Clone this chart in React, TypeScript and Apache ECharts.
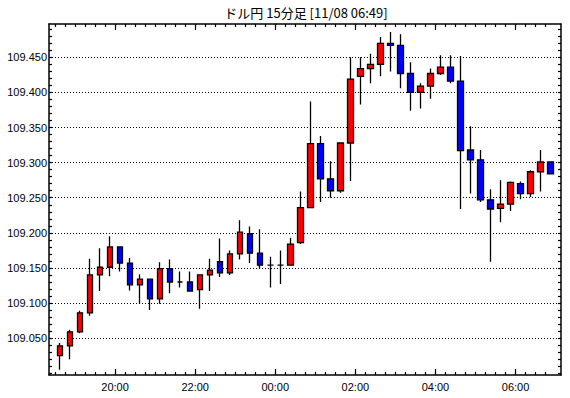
import React, { useEffect, useRef } from "react";
import * as echarts from "echarts";

// Candles: 15-minute bars starting 18:30, [open, close, low, high]
const opens = [109.025, 109.039, 109.059, 109.086, 109.140, 109.151, 109.180, 109.157, 109.126, 109.134,
  109.106, 109.149, 109.130, 109.130, 109.119, 109.140, 109.159, 109.143, 109.170, 109.199,
  109.171, 109.154, 109.154, 109.154, 109.186, 109.236, 109.327, 109.277, 109.260, 109.328,
  109.423, 109.434, 109.440, 109.470, 109.467, 109.427, 109.400, 109.409, 109.427, 109.436,
  109.416, 109.318, 109.304, 109.247, 109.235, 109.241, 109.270, 109.256, 109.287, 109.301];
const closes = [109.039, 109.059, 109.086, 109.140, 109.151, 109.180, 109.157, 109.126, 109.134, 109.106,
  109.149, 109.130, 109.130, 109.117, 109.140, 109.147, 109.143, 109.170, 109.201, 109.171,
  109.154, 109.154, 109.154, 109.184, 109.236, 109.327, 109.277, 109.260, 109.328, 109.419,
  109.434, 109.440, 109.470, 109.467, 109.427, 109.400, 109.409, 109.427, 109.436, 109.416,
  109.317, 109.304, 109.247, 109.234, 109.241, 109.272, 109.256, 109.287, 109.301, 109.284];
const lows = [109.005, 109.020, 109.057, 109.082, 109.117, 109.138, 109.145, 109.118, 109.099, 109.090,
  109.099, 109.114, 109.122, 109.117, 109.092, 109.117, 109.137, 109.140, 109.162, 109.157,
  109.149, 109.122, 109.127, 109.154, 109.184, 109.236, 109.244, 109.250, 109.257, 109.274,
  109.383, 109.413, 109.423, 109.430, 109.406, 109.374, 109.377, 109.391, 109.425, 109.413,
  109.234, 109.256, 109.244, 109.159, 109.215, 109.231, 109.248, 109.251, 109.259, 109.284];
const highs = [109.043, 109.062, 109.089, 109.163, 109.178, 109.195, 109.181, 109.164, 109.141, 109.134,
  109.158, 109.162, 109.145, 109.145, 109.140, 109.163, 109.192, 109.175, 109.218, 109.209,
  109.205, 109.166, 109.175, 109.193, 109.259, 109.387, 109.338, 109.302, 109.328, 109.450,
  109.450, 109.455, 109.479, 109.486, 109.483, 109.443, 109.413, 109.434, 109.453, 109.453,
  109.452, 109.352, 109.318, 109.262, 109.275, 109.273, 109.273, 109.289, 109.318, 109.301];

// x-axis: slot index (0 = 18:30 bar start)
const xTickSlots = [6, 14, 22, 30, 38, 46];
const xTickLabels = ["20:00", "22:00", "00:00", "02:00", "04:00", "06:00"];
const yLabelValues = [109.05, 109.1, 109.15, 109.2, 109.25, 109.3, 109.35, 109.4, 109.45];

const TITLE = "ドル円 15分足 [11/08 06:49]";

const X_MIN = -0.6;
const X_MAX = 50.54;
const Y_MIN = 108.9975;
const Y_MAX = 109.4975;

export default function App() {
  const ref = useRef<HTMLDivElement>(null);
  useEffect(() => {
    if (!ref.current) return;
    const chart = echarts.init(ref.current, undefined, { renderer: "svg" });
    const minorX: number[] = [];
    for (let i = 0; i < opens.length; i++) minorX.push(i);
    const minorY: number[] = [];
    for (let i = 0; i < 50; i++) minorY.push(Math.round((109 + i * 0.01) * 1000) / 1000);

    const data = opens.map((o, i) => [i + 0.5, o, closes[i], lows[i], highs[i]]);
    const lineStyle = { color: "#000", width: 1.5 };
    const tickStyle = { color: "#000", width: 1.2 };
    const font = { fontFamily: "Liberation Sans", fontSize: 11, color: "#000" };

    const xBase = { type: "value", min: X_MIN, max: X_MAX, splitLine: { show: false } } as any;
    const yBase = { type: "value", min: Y_MIN, max: Y_MAX } as any;

    chart.setOption({
      animation: false,
      backgroundColor: "#fff",
      grid: { left: 49, right: 9, top: 24, bottom: 23, containLabel: false },
      graphic: [
        {
          type: "text",
          x: 306,
          y: 12,
          style: {
            text: TITLE,
            fill: "#000",
            font: '13px "Noto Sans CJK JP"',
            textAlign: "center",
            textVerticalAlign: "middle",
          },
        },
      ],
      xAxis: [
        {
          ...xBase, position: "bottom",
          axisLine: { show: true, onZero: false, lineStyle },
          axisTick: { show: true, inside: true, length: 3, customValues: minorX, lineStyle: tickStyle },
          axisLabel: { show: false },
        },
        {
          ...xBase, position: "bottom",
          axisLine: { show: false, onZero: false },
          axisTick: { show: true, inside: true, length: 6, customValues: xTickSlots, lineStyle: tickStyle },
          axisLabel: {
            show: true, customValues: xTickSlots, margin: 6, ...font,
            formatter: (v: number) => { const k = xTickSlots.indexOf(Math.round(v)); return k >= 0 ? xTickLabels[k] : ""; },
          },
        },
        {
          ...xBase, position: "top",
          axisLine: { show: true, onZero: false, lineStyle },
          axisTick: { show: true, inside: true, length: 3, customValues: minorX, lineStyle: tickStyle },
          axisLabel: { show: false },
        },
        {
          ...xBase, position: "top",
          axisLine: { show: false, onZero: false },
          axisTick: { show: true, inside: true, length: 6, customValues: xTickSlots, lineStyle: tickStyle },
          axisLabel: { show: false },
        },
      ],
      yAxis: [
        {
          ...yBase, position: "left",
          axisLine: { show: true, onZero: false, lineStyle },
          axisTick: { show: true, inside: true, length: 3, customValues: minorY, lineStyle: tickStyle },
          axisLabel: { show: false },
          splitLine: { show: false },
        },
        {
          ...yBase, position: "left",
          axisLine: { show: false, onZero: false },
          axisTick: { show: false, customValues: yLabelValues },
          axisLabel: {
            show: true, customValues: yLabelValues, margin: 2, ...font,
            formatter: (v: number) => v.toFixed(3),
          },
          splitLine: { show: true, lineStyle: { color: "#000", width: 1, type: [1, 2] } },
        },
        {
          ...yBase, position: "right",
          axisLine: { show: true, onZero: false, lineStyle },
          axisTick: { show: true, inside: true, length: 3, customValues: minorY, lineStyle: tickStyle },
          axisLabel: { show: false },
          splitLine: { show: false },
        },
      ],
      series: [
        {
          type: "candlestick",
          xAxisIndex: 0,
          yAxisIndex: 0,
          barWidth: 6,
          data,
          itemStyle: {
            color: "#ff0000",
            color0: "#0000ff",
            borderColor: "#000",
            borderColor0: "#000",
            borderColorDoji: "#000",
            borderWidth: 1.3,
          },
        },
      ],
    });
    return () => chart.dispose();
  }, []);
  return (
    <div
      ref={ref}
      style={{ position: "fixed", left: 0, top: 0, width: 570, height: 398, background: "#fff" }}
    />
  );
}
